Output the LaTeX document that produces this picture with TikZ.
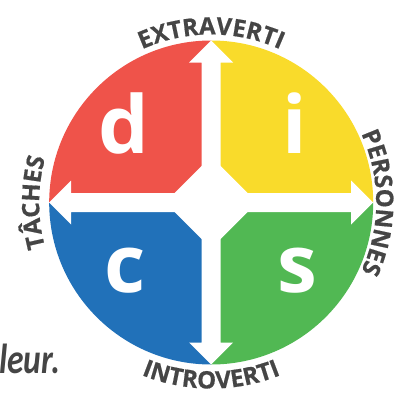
\documentclass[tikz,border=0pt]{standalone}
\usepackage{fontspec}
\setmainfont{Open Sans}
\newfontfamily\axisfamily{Open Sans}[BoldFeatures={FakeBold=0.6}]
\newfontfamily\notefont{Carlito}
\usetikzlibrary{decorations.text}

\definecolor{discred}{HTML}{EF534A}
\definecolor{discyellow}{HTML}{F9DB2B}
\definecolor{discblue}{HTML}{2171B9}
\definecolor{discgreen}{HTML}{51B853}
\definecolor{disctext}{HTML}{454545}

\newcommand{\axisfont}{\axisfamily\fontsize{24}{24}\selectfont\bfseries}

\tikzset{
  letter/.style={text=white, font=\fontsize{80}{80}\selectfont\bfseries, anchor=base, inner sep=0pt},
  axislabel/.style={decorate, decoration={text along path, text align=center,
      text color=disctext, text={|\axisfont|#1}}}
}

\begin{document}
\begin{tikzpicture}[x=1pt,y=1pt]
    \useasboundingbox (-211.2,-191.5) rectangle (186.8,202.5);

    % Quadrants
    \foreach \c [count=\i from 0] in {discyellow,discred,discblue,discgreen}
        \fill[\c] (0,0) -- (\i*90:162) arc[start angle=\i*90, delta angle=90, radius=162] -- cycle;

    % Arrows and centre
    \foreach \a in {0,90,180,270}
        \fill[white, rotate=\a] (-9.5,0) -- (-9.5,140) -- (-22,140) -- (0,162)
            -- (22,140) -- (9.5,140) -- (9.5,0) -- cycle;
    \fill[white] (0,46) -- (46,0) -- (0,-46) -- (-46,0) -- cycle;

    % Letters
    \node[letter] (d) at (-87,49) {d};
    \node[letter] (i) at (84,49) {i};
    \node[letter] (c) at (-86,-90) {c};
    \node[letter] (s) at (86,-90) {s};

    % Axis labels
    \path[axislabel=EXTRAVERTI] (120:168) arc[start angle=120, end angle=60, radius=168];
    \path[axislabel=INTROVERTI] (240:186) arc[start angle=240, end angle=300, radius=186];
    \path[axislabel=TÂCHES] (210:172) arc[start angle=210, end angle=150, radius=172];
    \path[axislabel=PERSONNES] (30:165) arc[start angle=30, end angle=-30, radius=165];

    % Cut text
    \node[anchor=base east, inner sep=0pt, text=disctext, xscale=0.8,
          font=\notefont\bfseries\itshape\fontsize{42}{42}\selectfont] (note) at (-151,-170.5) {leur.};
\end{tikzpicture}
\end{document}
